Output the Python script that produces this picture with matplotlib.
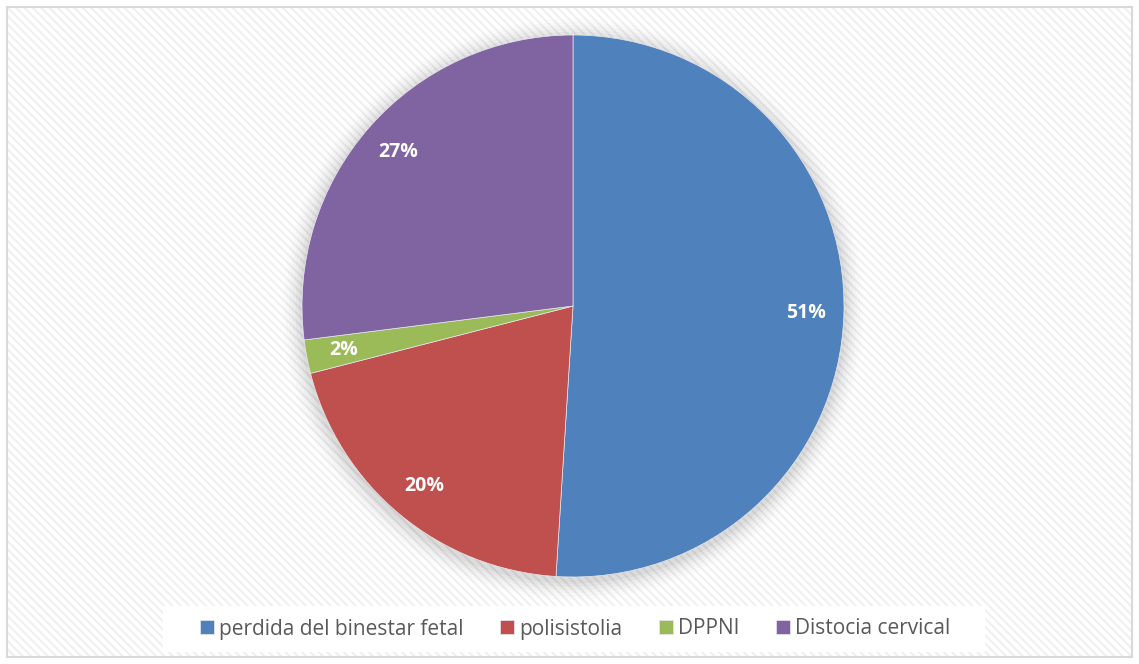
import matplotlib
matplotlib.use("Agg")
import matplotlib.pyplot as plt
from matplotlib.patches import Rectangle, Circle

categories = ["perdida del binestar fetal", "polisistolia", "DPPNI", "Distocia cervical"]
values = [51, 20, 2, 27]
colors = ["#4F81BD", "#C0504D", "#9BBB59", "#8064A2"]

W, H = 1139, 664
fig = plt.figure(figsize=(W / 100, H / 100), dpi=100)
fig.patch.set_facecolor("white")

# background with faint diagonal stripes and frame
plt.rcParams['hatch.linewidth'] = 1.4
bg = fig.add_axes([0, 0, 1, 1])
bg.set_xlim(0, W)
bg.set_ylim(H, 0)
bg.axis("off")
bg.add_patch(Rectangle((7, 7), W - 14, H - 14, facecolor="white", edgecolor="#efefef",
                       hatch="\\\\\\\\", linewidth=0))
bg.add_patch(Rectangle((7, 7), W - 14, H - 14, facecolor="none", edgecolor="#d9d9d9",
                       linewidth=1.5))
# legend white box
bg.add_patch(Rectangle((163, 606), 822, 46, facecolor="white", edgecolor="none"))

cx, cy, r = 573, 306, 271
ax = fig.add_axes([(cx - r) / W, (H - cy - r) / H, 2 * r / W, 2 * r / H])
ax.set_xlim(-1, 1)
ax.set_ylim(-1, 1)
ax.set_aspect("equal")
ax.axis("off")

# soft shadow
for i, a in enumerate([0.035, 0.03, 0.025, 0.02, 0.015, 0.01]):
    ax.add_patch(Circle((0.0, -0.012), 1.0 + 0.012 * (i + 1), facecolor="black",
                        alpha=a, edgecolor="none", clip_on=False, zorder=0))

wedges, texts, autotexts = ax.pie(
    values, colors=colors, startangle=90, counterclock=False,
    autopct=lambda p: f"{p:.0f}%", pctdistance=0.86, radius=1.0,
    wedgeprops=dict(edgecolor="#e8e8f0", linewidth=0.5),
    textprops=dict(color="white", fontsize=14, fontweight="bold", family="Open Sans"))
for w in wedges:
    w.set_zorder(2)
for t in autotexts:
    t.set_zorder(3)
ax.set_xlim(-1, 1)
ax.set_ylim(-1, 1)

leg = fig.legend(wedges, categories, loc="center", bbox_to_anchor=(575.5 / W, 1 - 629 / H),
                 ncol=4, frameon=False, handlelength=0.67, handleheight=0.67,
                 handletextpad=0.25, columnspacing=1.75,
                 prop=dict(family="Open Sans", size=15))
for t in leg.get_texts():
    t.set_color("#595959")

fig.savefig("out.png", dpi=100)
